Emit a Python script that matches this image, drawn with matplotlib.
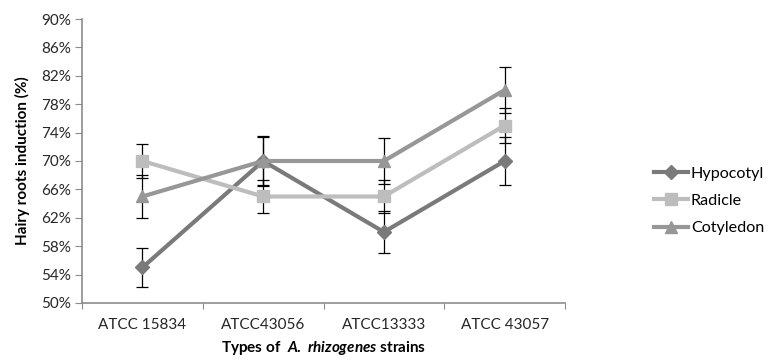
import matplotlib
matplotlib.use("Agg")
import matplotlib.pyplot as plt
import numpy as np

# data
strains = ['ATCC 15834', 'ATCC43056', 'ATCC13333', 'ATCC 43057']
hypocotyl = [55, 70, 60, 70]
radicle = [70, 65, 65, 75]
cotyledon = [65, 70, 70, 80]
hypocotyl_err = [2.8, 3.4, 2.9, 3.4]
radicle_err = [2.4, 2.3, 2.3, 2.4]
cotyledon_err = [3.0, 3.5, 3.2, 3.2]
yticks = [50, 54, 58, 62, 66, 70, 74, 78, 82, 86, 90]

plt.rcParams['font.family'] = ['Lato', 'DejaVu Sans']
plt.rcParams['mathtext.fontset'] = 'custom'
plt.rcParams['mathtext.it'] = 'Lato:italic:bold'
plt.rcParams['mathtext.rm'] = 'Lato:bold'

fig = plt.figure(figsize=(7.71, 3.62), dpi=100)
ax = fig.add_axes([0.1064, 0.163, 0.6264, 0.7845])

x = np.arange(len(strains))
series = [
    ('Hypocotyl', hypocotyl, hypocotyl_err, '#7a7a7a', 'D', 7),
    ('Radicle', radicle, radicle_err, '#bdbdbd', 's', 8),
    ('Cotyledon', cotyledon, cotyledon_err, '#979797', '^', 9),
]
for name, vals, err, col, mk, ms in series:
    ax.errorbar(x, vals, yerr=err, fmt='none', ecolor='black', elinewidth=0.9,
                capsize=4, capthick=0.9, zorder=2)
for name, vals, err, col, mk, ms in series:
    ax.plot(x, vals, color=col, lw=3, marker=mk, markersize=ms,
            markeredgecolor=col, label=name, zorder=3)

ax.set_xlim(-0.5, len(strains) - 0.5)
ax.set_ylim(50, 90)
ax.set_yticks(yticks)
ax.set_yticklabels([f'{v}%' for v in yticks])
ax.set_xticks(np.arange(-0.5, len(strains)), labels=[''] * (len(strains) + 1))
ax.set_xticks(x, labels=strains, minor=True)
ax.tick_params(axis='x', which='minor', length=0, pad=11)
ax.tick_params(axis='x', which='major', length=4, color='#8c8c8c')
ax.tick_params(axis='y', length=5, color='#8c8c8c', pad=3)
ax.tick_params(labelsize=11, labelcolor='#262626')
ax.tick_params(axis='x', which='minor', labelsize=11, labelcolor='#262626')

for s in ['top', 'right']:
    ax.spines[s].set_visible(False)
for s in ['left', 'bottom']:
    ax.spines[s].set_color('#8c8c8c')
    ax.spines[s].set_linewidth(1.2)

ax.set_ylabel('Hairy roots induction (%)', fontsize=11, fontweight='bold', labelpad=8)
ax.set_xlabel(r'Types of  $\mathit{A.\ rhizogenes}$ strains', fontsize=11,
              fontweight='bold', labelpad=5)

leg = fig.legend(loc='center left', bbox_to_anchor=(0.848, 0.445), frameon=False,
                 fontsize=11.6, handlelength=2.1, handletextpad=0.2, labelspacing=0.8,
                 borderpad=0, borderaxespad=0)

fig.savefig('out.png', dpi=100)
